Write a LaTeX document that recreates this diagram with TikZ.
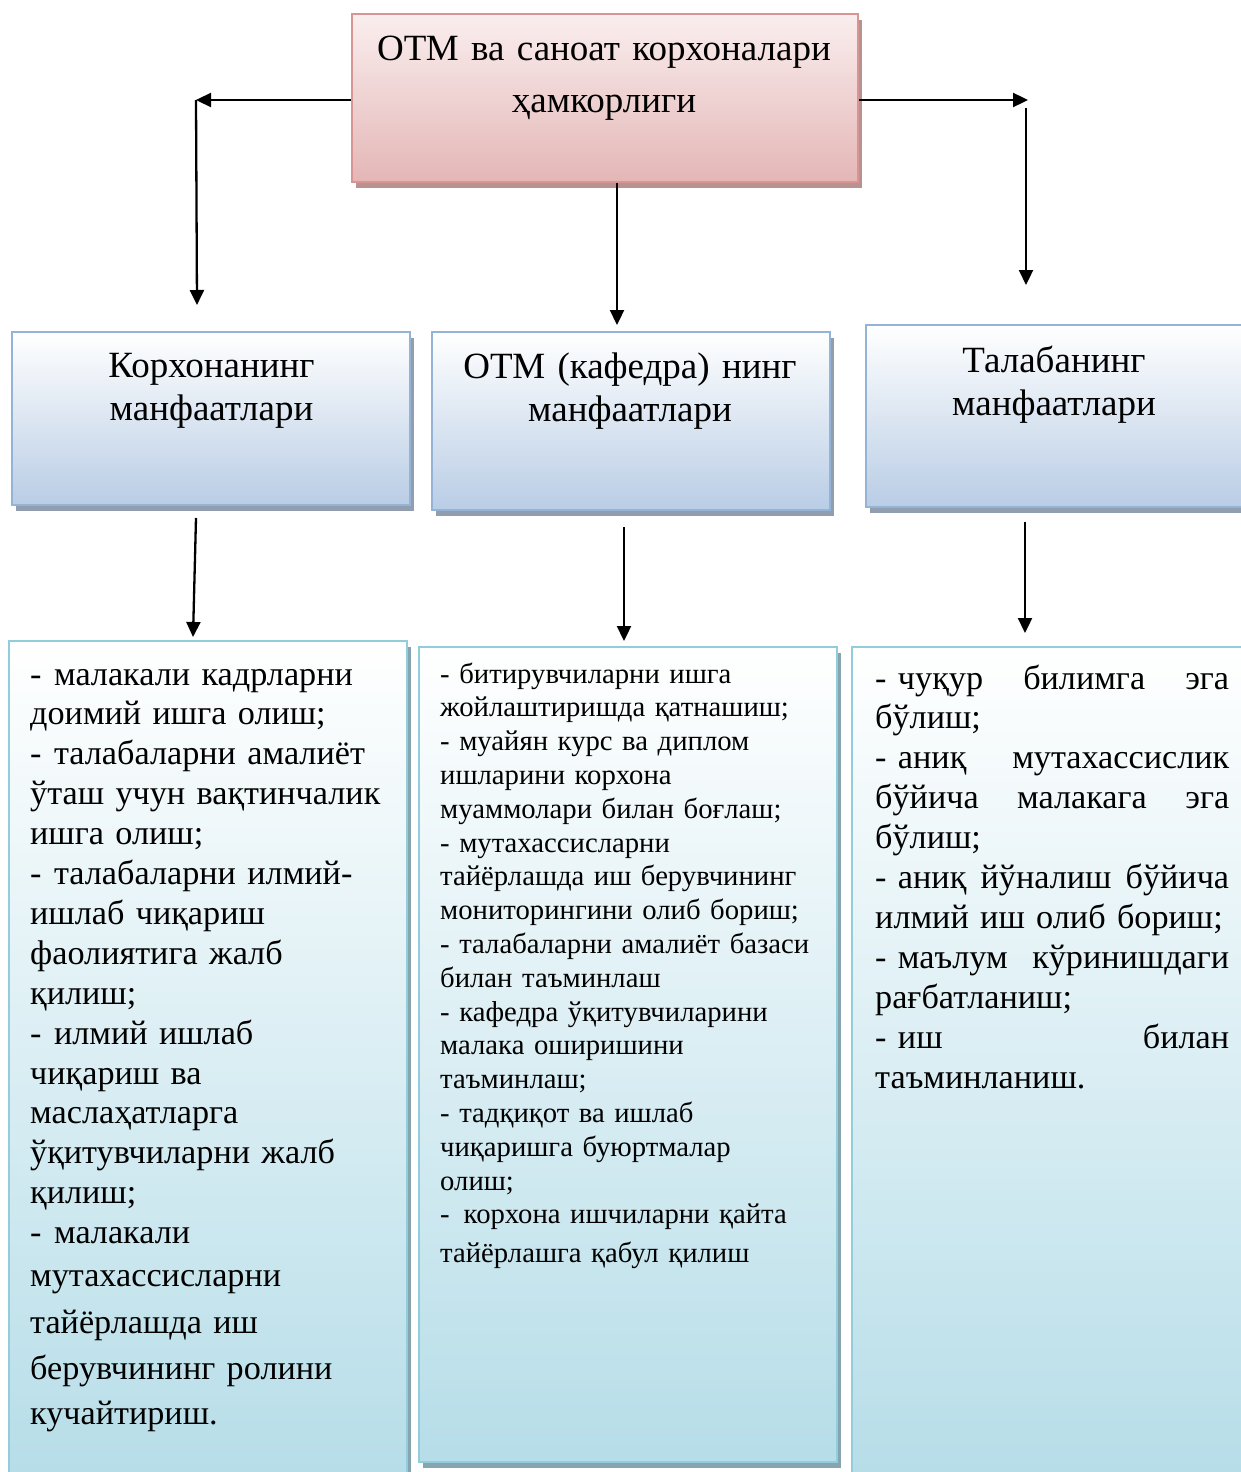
\documentclass[tikz,border=0pt]{standalone}
\usepackage{fontspec}
\setmainfont{Liberation Serif}
\usetikzlibrary{arrows.meta,shadows}

\definecolor{pinkTop}{RGB}{250,238,238}
\definecolor{pinkBot}{RGB}{228,182,182}
\definecolor{pinkLine}{RGB}{217,149,148}
\definecolor{pinkShadow}{RGB}{185,145,145}
\definecolor{blueBot}{RGB}{185,205,229}
\definecolor{blueLine}{RGB}{149,179,215}
\definecolor{blueShadow}{RGB}{145,158,176}
\definecolor{cyanBot}{RGB}{182,221,232}
\definecolor{cyanLine}{RGB}{146,205,220}
\definecolor{cyanShadow}{RGB}{135,165,175}

\newcommand\ftop{\fontsize{37}{52}\selectfont}
\newcommand\fhead{\fontsize{37}{43}\selectfont}
\newcommand\fbig{\fontsize{34.2}{39.9}\selectfont}
\newcommand\fsmall{\fontsize{28.7}{33.8}\selectfont}
\newcommand\lbul{-\hspace{12.5pt}}
\newcommand\jl[1]{\leavevmode\hbox to 354pt{#1}}

\begin{document}
\begin{tikzpicture}[x=1pt,y=-1pt,
  box/.style={rectangle, line width=2pt, inner sep=0pt},
  pinkbox/.style={box, draw=pinkLine, top color=pinkTop, bottom color=pinkBot,
    drop shadow={shadow xshift=4pt, shadow yshift=-6pt, fill=pinkShadow, opacity=1}},
  bluebox/.style={box, draw=blueLine, top color=white, bottom color=blueBot,
    drop shadow={shadow xshift=4pt, shadow yshift=-6pt, fill=blueShadow, opacity=1}},
  cyanbox/.style={box, draw=cyanLine, top color=white, bottom color=cyanBot,
    drop shadow={shadow xshift=4pt, shadow yshift=-6pt, fill=cyanShadow, opacity=1}},
  txt/.style={inner sep=0pt, text=black},
  arr/.style={line width=2.3pt, -{Triangle[length=15pt,width=14pt]}},
]
\useasboundingbox (0,0) rectangle (1240,1472);

% boxes
\node[pinkbox, minimum width=506pt, minimum height=168pt] (top) at (605,98) {};
\node[bluebox, minimum width=398pt, minimum height=173pt] (kor) at (211,418.5) {};
\node[bluebox, minimum width=398pt, minimum height=178pt] (otm) at (630.5,421) {};
\node[bluebox, minimum width=384pt, minimum height=182pt] (tal) at (1058,416) {};
\node[cyanbox, minimum width=398pt, minimum height=839pt] (korL) at (208,1060.5) {};
\node[cyanbox, minimum width=418pt, minimum height=815pt] (otmL) at (628,1054.5) {};
\node[cyanbox, minimum width=398pt, minimum height=833pt] (talL) at (1051,1063.5) {};

% texts
\node[txt, font=\ftop, text width=500pt, align=center, anchor=base] (toptxt) at (604,60)
  {ОТМ ва саноат корхоналари\\ҳамкорлиги};
\node[txt, font=\fhead, text width=390pt, align=center, anchor=base] (kortxt) at (211.5,377)
  {Корхонанинг\\манфаатлари};
\node[txt, font=\fhead, text width=390pt, align=center, anchor=base] (otmtxt) at (630,378)
  {ОТМ (кафедра) нинг\\манфаатлари};
\node[txt, font=\fhead, text width=380pt, align=center, anchor=base] (taltxt) at (1054,372)
  {Талабанинг\\манфаатлари};

\node[txt, font=\fbig, text width=375pt, align=left, anchor=base west] (korlist) at (30,685)
  {\lbul малакали кадрларни\\
   доимий ишга олиш;\\
   \lbul талабаларни амалиёт\\
   ўташ учун вақтинчалик\\
   ишга олиш;\\
   \lbul талабаларни илмий-\\
   ишлаб чиқариш\\
   фаолиятига жалб\\
   қилиш;\\
   \lbul илмий ишлаб\\
   чиқариш ва\\
   маслаҳатларга\\
   ўқитувчиларни жалб\\
   қилиш;\\
   \lbul малакали\\[3pt]
   мутахассисларни\\[7pt]
   тайёрлашда иш\\[6pt]
   берувчининг ролини\\[5pt]
   кучайтириш.};

\node[txt, font=\fsmall, text width=395pt, align=left, anchor=base west] (otmlist) at (440,683)
  {- битирувчиларни ишга\\
   жойлаштиришда қатнашиш;\\
   - муайян курс ва диплом\\
   ишларини корхона\\
   муаммолари билан боғлаш;\\
   - мутахассисларни\\
   тайёрлашда иш берувчининг\\
   мониторингини олиб бориш;\\
   - талабаларни амалиёт базаси\\
   билан таъминлаш\\
   - кафедра ўқитувчиларини\\
   малака оширишини\\
   таъминлаш;\\
   - тадқиқот ва ишлаб\\
   чиқаришга буюртмалар\\
   олиш;\\
   -\hspace{14pt}корхона ишчиларни қайта\\[5pt]
   тайёрлашга қабул қилиш};

\node[txt, font=\fbig, text width=354pt, align=left, anchor=base west] (tallist) at (875,689)
  {\jl{- чуқур\hfill билимга\hfill эга}\\
   бўлиш;\\
   \jl{- аниқ\hfill мутахассислик}\\
   \jl{бўйича\hfill малакага\hfill эга}\\
   бўлиш;\\
   \jl{- аниқ\hfill йўналиш\hfill бўйича}\\
   илмий иш олиб бориш;\\
   \jl{- маълум\hfill кўринишдаги}\\
   рағбатланиш;\\
   \jl{- иш\hfill билан}\\
   таъминланиш.};

% connectors
\coordinate (lc) at (196,100);
\coordinate (ld) at (197,305);
\coordinate (rc) at (1028,100);
\coordinate (rv1) at (1026,108);
\coordinate (rv2) at (1026,285);
\coordinate (mv) at (617,325);
\draw[arr] (top.west |- lc) -- (lc);
\draw[arr] (lc) -- (ld);
\draw[arr] (top.east |- rc) -- (rc);
\draw[arr] (rv1) -- (rv2);
\draw[arr] (top.south -| mv) -- (mv);

\coordinate (la1) at (196,518);
\coordinate (la2) at (193,637);
\coordinate (ma1) at (624,527);
\coordinate (ma2) at (624,641);
\coordinate (ra1) at (1025,522);
\coordinate (ra2) at (1025,633);
\draw[arr] (la1) -- (la2);
\draw[arr] (ma1) -- (ma2);
\draw[arr] (ra1) -- (ra2);
\end{tikzpicture}
\end{document}
